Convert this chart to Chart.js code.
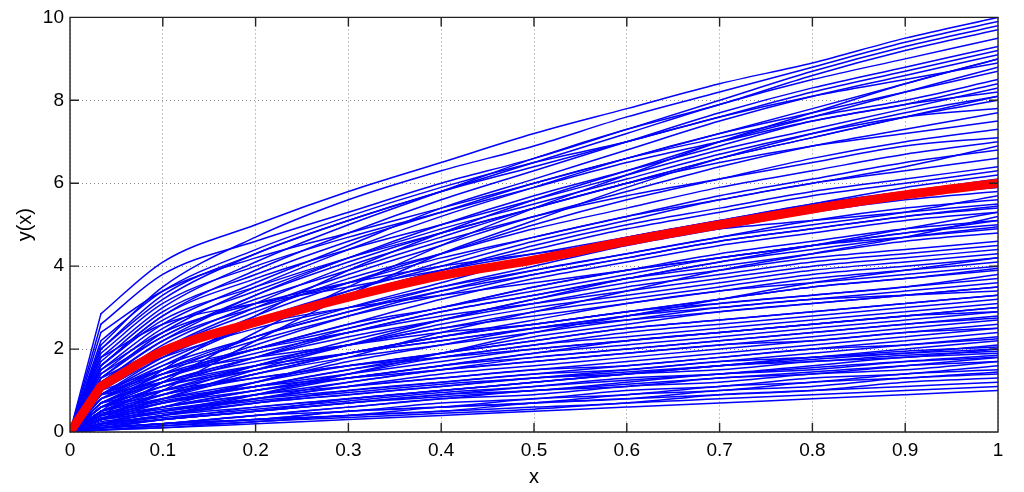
<!DOCTYPE html>
<html>
<head>
<meta charset="utf-8">
<title>y(x) paths</title>
<script src="https://cdn.jsdelivr.net/npm/chart.js@4/dist/chart.umd.min.js"></script>
<style>
html, body { margin: 0; background: #fff; }
</style>
</head>
<body>
<canvas id="pathChart" width="1024" height="492"></canvas>
<script>
// sample positions along x (values read at these points)
var xs = [0, 0.0333, 0.1, 0.2, 0.3, 0.4, 0.5, 0.6, 0.7, 0.8, 0.9, 1];

// thick red curve
var meanY = [0, 1.1, 1.95, 2.65, 3.25, 3.77, 4.15, 4.6, 5.0, 5.38, 5.72, 6.0];

// blue sample paths
var paths = [
  [0, 2.85, 4.1, 5.0, 5.8, 6.5, 7.2, 7.8, 8.4, 8.9, 9.5, 10.0],
  [0, 2.1, 3.5, 4.7, 5.6, 6.3, 6.9, 7.6, 8.2, 8.8, 9.4, 9.9],
  [0, 2.6, 3.8, 4.6, 5.3, 6.0, 6.6, 7.3, 8.0, 8.7, 9.3, 9.8],
  [0, 1.8, 3.0, 4.1, 5.0, 5.8, 6.6, 7.3, 7.9, 8.6, 9.2, 9.7],
  [0, 2.0, 3.2, 4.3, 5.1, 5.8, 6.5, 7.2, 7.9, 8.5, 9.0, 9.5],
  [0, 1.6, 2.8, 3.9, 4.8, 5.6, 6.3, 7.0, 7.7, 8.3, 8.8, 9.3],
  [0, 2.0, 3.3, 4.3, 5.1, 5.8, 6.4, 7.0, 7.6, 8.2, 8.7, 9.2],
  [0, 1.5, 2.6, 3.6, 4.5, 5.4, 6.1, 6.8, 7.5, 8.1, 8.6, 9.1],
  [0, 2.4, 3.4, 4.2, 4.8, 5.4, 6.0, 6.6, 7.2, 7.8, 8.4, 9.0],
  [0, 0.4, 1.2, 2.4, 3.5, 4.5, 5.4, 6.2, 7.0, 7.7, 8.4, 9.0],
  [0, 2.2, 3.4, 4.4, 5.2, 5.9, 6.5, 7.0, 7.6, 8.1, 8.5, 8.9],
  [0, 0.5, 1.5, 2.8, 3.9, 4.8, 5.6, 6.3, 7.0, 7.6, 8.2, 8.8],
  [0, 1.3, 2.4, 3.5, 4.4, 5.2, 5.9, 6.6, 7.2, 7.7, 8.2, 8.7],
  [0, 1.7, 2.9, 3.8, 4.6, 5.3, 6.0, 6.6, 7.1, 7.6, 8.0, 8.5],
  [0, 1.2, 2.2, 3.3, 4.2, 5.0, 5.7, 6.3, 6.9, 7.5, 7.9, 8.4],
  [0, 1.6, 2.8, 3.7, 4.4, 5.0, 5.6, 6.2, 6.8, 7.3, 7.8, 8.3],
  [0, 1.9, 3.1, 4.0, 4.7, 5.3, 5.9, 6.5, 7.0, 7.5, 7.9, 8.2],
  [0, 0.3, 1.0, 2.2, 3.3, 4.3, 5.1, 5.9, 6.6, 7.2, 7.7, 8.1],
  [0, 1.4, 2.3, 3.3, 4.1, 4.8, 5.4, 6.0, 6.6, 7.1, 7.6, 8.1],
  [0, 1.1, 2.1, 3.1, 4.0, 4.7, 5.4, 6.0, 6.6, 7.1, 7.6, 8.0],
  [0, 1.4, 2.5, 3.4, 4.2, 4.9, 5.5, 6.1, 6.7, 7.2, 7.6, 7.8],
  [0, 1.0, 2.0, 3.0, 3.8, 4.5, 5.2, 5.8, 6.4, 6.9, 7.3, 7.7],
  [0, 1.6, 2.7, 3.5, 4.2, 4.8, 5.4, 6.0, 6.5, 6.9, 7.2, 7.5],
  [0, 0.9, 1.8, 2.8, 3.6, 4.3, 5.0, 5.6, 6.1, 6.6, 7.0, 7.3],
  [0, 1.3, 2.3, 3.2, 3.9, 4.6, 5.2, 5.7, 6.1, 6.5, 6.9, 7.1],
  [0, 1.1, 2.0, 2.9, 3.7, 4.3, 4.9, 5.4, 5.9, 6.3, 6.7, 7.0],
  [0, 1.0, 1.8, 2.7, 3.4, 4.0, 4.6, 5.1, 5.6, 6.0, 6.4, 6.9],
  [0, 0.8, 1.6, 2.6, 3.4, 4.1, 4.7, 5.2, 5.7, 6.1, 6.5, 6.8],
  [0, 1.2, 2.2, 3.0, 3.6, 4.2, 4.7, 5.2, 5.6, 6.0, 6.3, 6.6],
  [0, 0.9, 1.7, 2.6, 3.3, 3.9, 4.5, 5.0, 5.4, 5.8, 6.1, 6.4],
  [0, 1.0, 1.9, 2.7, 3.3, 3.9, 4.4, 4.9, 5.3, 5.7, 6.0, 6.3],
  [0, 1.8, 2.6, 3.1, 3.5, 3.9, 4.3, 4.7, 5.1, 5.5, 5.9, 6.2],
  [0, 0.7, 1.4, 2.3, 3.0, 3.6, 4.2, 4.7, 5.1, 5.5, 5.8, 6.1],
  [0, 1.1, 1.9, 2.6, 3.2, 3.7, 4.2, 4.6, 5.0, 5.4, 5.7, 5.9],
  [0, 0.8, 1.5, 2.3, 2.9, 3.5, 4.0, 4.5, 4.9, 5.3, 5.6, 5.8],
  [0, 1.2, 1.8, 2.5, 3.0, 3.5, 3.9, 4.3, 4.7, 5.0, 5.3, 5.7],
  [0, 0.6, 1.3, 2.1, 2.8, 3.4, 3.9, 4.3, 4.7, 5.1, 5.4, 5.6],
  [0, 1.5, 2.4, 3.1, 3.6, 4.0, 4.3, 4.6, 4.9, 5.1, 5.3, 5.5],
  [0, 0.9, 1.5, 2.2, 2.8, 3.3, 3.8, 4.2, 4.6, 4.9, 5.2, 5.45],
  [0, 0.9, 1.6, 2.3, 2.9, 3.4, 3.8, 4.2, 4.6, 4.9, 5.2, 5.4],
  [0, 0.3, 0.8, 1.5, 2.1, 2.7, 3.2, 3.7, 4.1, 4.5, 4.9, 5.3],
  [0, 0.7, 1.3, 2.0, 2.6, 3.2, 3.7, 4.1, 4.5, 4.8, 5.1, 5.3],
  [0, 0.2, 0.6, 1.2, 1.8, 2.4, 2.9, 3.4, 3.9, 4.3, 4.7, 5.2],
  [0, 0.5, 1.1, 1.8, 2.5, 3.0, 3.5, 3.9, 4.3, 4.6, 4.9, 5.1],
  [0, 0.7, 1.3, 2.0, 2.5, 3.0, 3.4, 3.8, 4.2, 4.5, 4.8, 5.1],
  [0, 0.8, 1.4, 2.0, 2.6, 3.0, 3.5, 3.9, 4.2, 4.5, 4.8, 5.0],
  [0, 0.8, 1.3, 1.9, 2.4, 2.9, 3.3, 3.7, 4.1, 4.4, 4.7, 4.95],
  [0, 1.3, 2.0, 2.6, 3.0, 3.3, 3.6, 3.9, 4.2, 4.5, 4.7, 4.9],
  [0, 0.6, 1.2, 1.8, 2.4, 2.9, 3.3, 3.7, 4.0, 4.3, 4.6, 4.8],
  [0, 0.4, 0.9, 1.6, 2.2, 2.7, 3.2, 3.6, 3.9, 4.2, 4.4, 4.6],
  [0, 0.7, 1.2, 1.8, 2.3, 2.7, 3.1, 3.5, 3.8, 4.1, 4.3, 4.5],
  [0, 1.0, 1.5, 2.0, 2.4, 2.8, 3.1, 3.4, 3.7, 4.0, 4.2, 4.4],
  [0, 0.5, 1.0, 1.6, 2.1, 2.6, 3.0, 3.3, 3.6, 3.9, 4.1, 4.3],
  [0, 0.15, 0.4, 0.9, 1.4, 1.9, 2.4, 2.8, 3.2, 3.6, 3.9, 4.2],
  [0, 0.6, 1.1, 1.6, 2.1, 2.5, 2.9, 3.2, 3.5, 3.8, 4.0, 4.2],
  [0, 0.7, 1.2, 1.7, 2.1, 2.5, 2.8, 3.1, 3.4, 3.7, 3.9, 4.1],
  [0, 0.4, 0.8, 1.4, 1.9, 2.3, 2.7, 3.1, 3.4, 3.6, 3.8, 4.0],
  [0, 0.6, 1.0, 1.5, 1.9, 2.3, 2.6, 2.9, 3.2, 3.5, 3.7, 3.95],
  [0, 0.5, 0.9, 1.4, 1.9, 2.3, 2.6, 2.9, 3.2, 3.5, 3.7, 3.9],
  [0, 0.9, 1.4, 1.8, 2.1, 2.4, 2.6, 2.9, 3.1, 3.3, 3.5, 3.8],
  [0, 0.3, 0.7, 1.2, 1.7, 2.1, 2.5, 2.8, 3.1, 3.3, 3.5, 3.7],
  [0, 0.5, 0.9, 1.4, 1.8, 2.1, 2.4, 2.7, 3.0, 3.2, 3.4, 3.6],
  [0, 0.3, 0.7, 1.1, 1.5, 1.9, 2.3, 2.6, 2.9, 3.1, 3.3, 3.5],
  [0, 0.9, 1.2, 1.6, 1.9, 2.2, 2.5, 2.7, 2.9, 3.1, 3.3, 3.5],
  [0, 0.6, 1.1, 1.5, 1.9, 2.2, 2.5, 2.8, 3.0, 3.2, 3.3, 3.4],
  [0, 0.4, 0.8, 1.2, 1.6, 1.9, 2.2, 2.5, 2.7, 2.9, 3.1, 3.3],
  [0, 0.6, 0.9, 1.3, 1.6, 1.9, 2.2, 2.5, 2.7, 2.9, 3.1, 3.3],
  [0, 0.3, 0.6, 1.0, 1.4, 1.8, 2.1, 2.4, 2.6, 2.8, 3.0, 3.2],
  [0, 0.4, 0.7, 1.1, 1.5, 1.8, 2.1, 2.3, 2.5, 2.7, 2.9, 3.1],
  [0, 0.2, 0.5, 0.9, 1.3, 1.6, 1.9, 2.2, 2.4, 2.6, 2.8, 3.0],
  [0, 0.45, 0.75, 1.1, 1.4, 1.7, 2.0, 2.2, 2.4, 2.6, 2.8, 3.0],
  [0, 0.7, 1.0, 1.3, 1.6, 1.8, 2.0, 2.2, 2.4, 2.6, 2.8, 2.9],
  [0, 0.3, 0.6, 1.0, 1.3, 1.6, 1.9, 2.1, 2.3, 2.5, 2.7, 2.9],
  [0, 0.2, 0.5, 0.8, 1.2, 1.5, 1.8, 2.0, 2.2, 2.4, 2.6, 2.8],
  [0, 0.4, 0.7, 1.0, 1.3, 1.6, 1.8, 2.0, 2.2, 2.4, 2.6, 2.75],
  [0, 0.3, 0.6, 0.9, 1.2, 1.5, 1.7, 1.9, 2.1, 2.3, 2.5, 2.7],
  [0, 0.2, 0.4, 0.8, 1.1, 1.4, 1.6, 1.8, 2.0, 2.2, 2.4, 2.6],
  [0, 0.3, 0.5, 0.8, 1.1, 1.3, 1.5, 1.7, 1.9, 2.1, 2.3, 2.5],
  [0, 0.5, 0.8, 1.1, 1.3, 1.5, 1.7, 1.9, 2.1, 2.2, 2.4, 2.5],
  [0, 0.2, 0.4, 0.7, 1.0, 1.2, 1.4, 1.6, 1.8, 2.0, 2.2, 2.4],
  [0, 0.2, 0.4, 0.7, 0.9, 1.1, 1.3, 1.5, 1.7, 1.9, 2.1, 2.3],
  [0, 0.4, 0.6, 0.9, 1.1, 1.3, 1.5, 1.6, 1.8, 2.0, 2.1, 2.25],
  [0, 0.1, 0.3, 0.6, 0.8, 1.0, 1.2, 1.4, 1.6, 1.8, 2.0, 2.2],
  [0, 0.2, 0.4, 0.6, 0.8, 1.0, 1.2, 1.4, 1.6, 1.8, 1.9, 2.1],
  [0, 0.35, 0.55, 0.8, 1.0, 1.2, 1.4, 1.5, 1.7, 1.8, 1.95, 2.05],
  [0, 0.1, 0.3, 0.5, 0.8, 1.0, 1.2, 1.4, 1.5, 1.7, 1.8, 2.0],
  [0, 0.3, 0.5, 0.75, 0.95, 1.15, 1.3, 1.45, 1.6, 1.75, 1.9, 2.0],
  [0, 0.25, 0.45, 0.7, 0.9, 1.1, 1.3, 1.4, 1.6, 1.7, 1.85, 1.95],
  [0, 0.2, 0.3, 0.5, 0.7, 0.9, 1.1, 1.3, 1.4, 1.6, 1.8, 1.9],
  [0, 0.1, 0.3, 0.5, 0.7, 0.9, 1.0, 1.2, 1.4, 1.5, 1.7, 1.85],
  [0, 0.1, 0.2, 0.4, 0.6, 0.8, 1.0, 1.1, 1.3, 1.4, 1.6, 1.8],
  [0, 0.2, 0.35, 0.55, 0.75, 0.95, 1.1, 1.25, 1.4, 1.55, 1.7, 1.8],
  [0, 0.1, 0.2, 0.4, 0.6, 0.8, 0.9, 1.1, 1.2, 1.4, 1.5, 1.7],
  [0, 0.15, 0.3, 0.5, 0.7, 0.85, 1.0, 1.15, 1.3, 1.45, 1.6, 1.7],
  [0, 0.1, 0.2, 0.4, 0.5, 0.7, 0.8, 1.0, 1.1, 1.3, 1.4, 1.6],
  [0, 0.1, 0.2, 0.3, 0.5, 0.6, 0.8, 0.9, 1.1, 1.2, 1.4, 1.5],
  [0, 0.1, 0.2, 0.3, 0.5, 0.6, 0.7, 0.9, 1.0, 1.2, 1.3, 1.45],
  [0, 0.1, 0.2, 0.3, 0.4, 0.6, 0.7, 0.8, 1.0, 1.1, 1.3, 1.4],
  [0, 0.05, 0.15, 0.3, 0.4, 0.5, 0.7, 0.8, 0.9, 1.0, 1.2, 1.3],
  [0, 0.05, 0.15, 0.25, 0.4, 0.5, 0.6, 0.7, 0.9, 1.0, 1.1, 1.2],
  [0, 0.05, 0.1, 0.25, 0.35, 0.45, 0.55, 0.7, 0.8, 0.9, 1.0, 1.1],
  [0, 0.05, 0.1, 0.2, 0.3, 0.4, 0.5, 0.6, 0.7, 0.8, 0.9, 1.0]
];

var xTicks = [0, 0.1, 0.2, 0.3, 0.4, 0.5, 0.6, 0.7, 0.8, 0.9, 1];
var xTickLabels = ['0', '0.1', '0.2', '0.3', '0.4', '0.5', '0.6', '0.7', '0.8', '0.9', '1'];
var yTicks = [0, 2, 4, 6, 8, 10];
var yTickLabels = ['0', '2', '4', '6', '8', '10'];

var fontFam = '"Liberation Sans", Arial, Helvetica, sans-serif';

function toPoints(ys, from, to) {
  var pts = [];
  for (var i = from; i <= to; i++) {
    pts.push({ x: xs[i], y: ys[i] });
  }
  return pts;
}

// each path: a straight first step (sharp kink at the first node), then a smooth run
function addPath(list, ys, color, width, ord) {
  var last = xs.length - 1;
  list.push({
    data: toPoints(ys, 0, 1),
    borderColor: color, borderWidth: width,
    borderCapStyle: 'round', borderJoinStyle: 'round',
    order: ord
  });
  list.push({
    data: toPoints(ys, 1, last),
    borderColor: color, borderWidth: width,
    borderCapStyle: 'round', borderJoinStyle: 'round',
    cubicInterpolationMode: 'monotone',
    order: ord
  });
}

var datasets = [];
addPath(datasets, meanY, '#ff0000', 9, 0);
for (var k = 0; k < paths.length; k++) {
  addPath(datasets, paths[k], '#0000ff', 1.5, 1);
}

// MATLAB style box with ticks pointing inwards
var boxTicks = {
  id: 'boxTicks',
  afterDraw: function (chart) {
    var a = chart.chartArea, ctx = chart.ctx;
    var sx = chart.scales.x, sy = chart.scales.y;
    var len = 9;
    ctx.save();
    ctx.strokeStyle = '#222';
    ctx.lineWidth = 1.4;
    ctx.beginPath();
    ctx.rect(a.left, a.top, a.right - a.left, a.bottom - a.top);
    xTicks.forEach(function (v) {
      var px = sx.getPixelForValue(v);
      ctx.moveTo(px, a.bottom); ctx.lineTo(px, a.bottom - len);
      ctx.moveTo(px, a.top); ctx.lineTo(px, a.top + len);
    });
    yTicks.forEach(function (v) {
      var py = sy.getPixelForValue(v);
      ctx.moveTo(a.left, py); ctx.lineTo(a.left + len, py);
      ctx.moveTo(a.right, py); ctx.lineTo(a.right - len, py);
    });
    ctx.stroke();
    ctx.restore();
  }
};

var chart = new Chart(document.getElementById('pathChart'), {
  type: 'scatter',
  data: { datasets: datasets },
  plugins: [boxTicks],
  options: {
    responsive: false,
    animation: false,
    showLine: true,
    layout: { padding: { top: 16, right: 26, left: 0, bottom: 0 } },
    elements: {
      point: { radius: 0, hoverRadius: 0 },
      line: { tension: 0, fill: false }
    },
    plugins: {
      legend: { display: false },
      tooltip: { enabled: false }
    },
    scales: {
      x: {
        type: 'linear',
        min: 0,
        max: 1,
        afterFit: function (s) { s.height = 60; },
        afterBuildTicks: function (s) { s.ticks = xTicks.map(function (v) { return { value: v }; }); },
        ticks: {
          padding: 7,
          color: '#000',
          font: { family: fontFam, size: 19 },
          maxRotation: 0,
          callback: function (v) { return xTickLabels[xTicks.indexOf(v)]; }
        },
        grid: { color: '#8a8a8a', lineWidth: 1, drawTicks: false },
        border: { display: false, dash: [1, 3] },
        title: {
          display: true,
          text: 'x',
          color: '#000',
          font: { family: fontFam, size: 20 },
          padding: { top: 0, bottom: 3 }
        }
      },
      y: {
        type: 'linear',
        min: 0,
        max: 10,
        afterFit: function (s) { s.width = 70; },
        afterBuildTicks: function (s) { s.ticks = yTicks.map(function (v) { return { value: v }; }); },
        ticks: {
          padding: 6,
          color: '#000',
          font: { family: fontFam, size: 19 },
          callback: function (v) { return yTickLabels[yTicks.indexOf(v)]; }
        },
        grid: { color: '#8a8a8a', lineWidth: 1, drawTicks: false },
        border: { display: false, dash: [1, 3] },
        title: {
          display: true,
          text: 'y(x)',
          color: '#000',
          font: { family: fontFam, size: 20 },
          padding: { top: 13, bottom: 0 }
        }
      }
    }
  }
});
</script>
</body>
</html>
